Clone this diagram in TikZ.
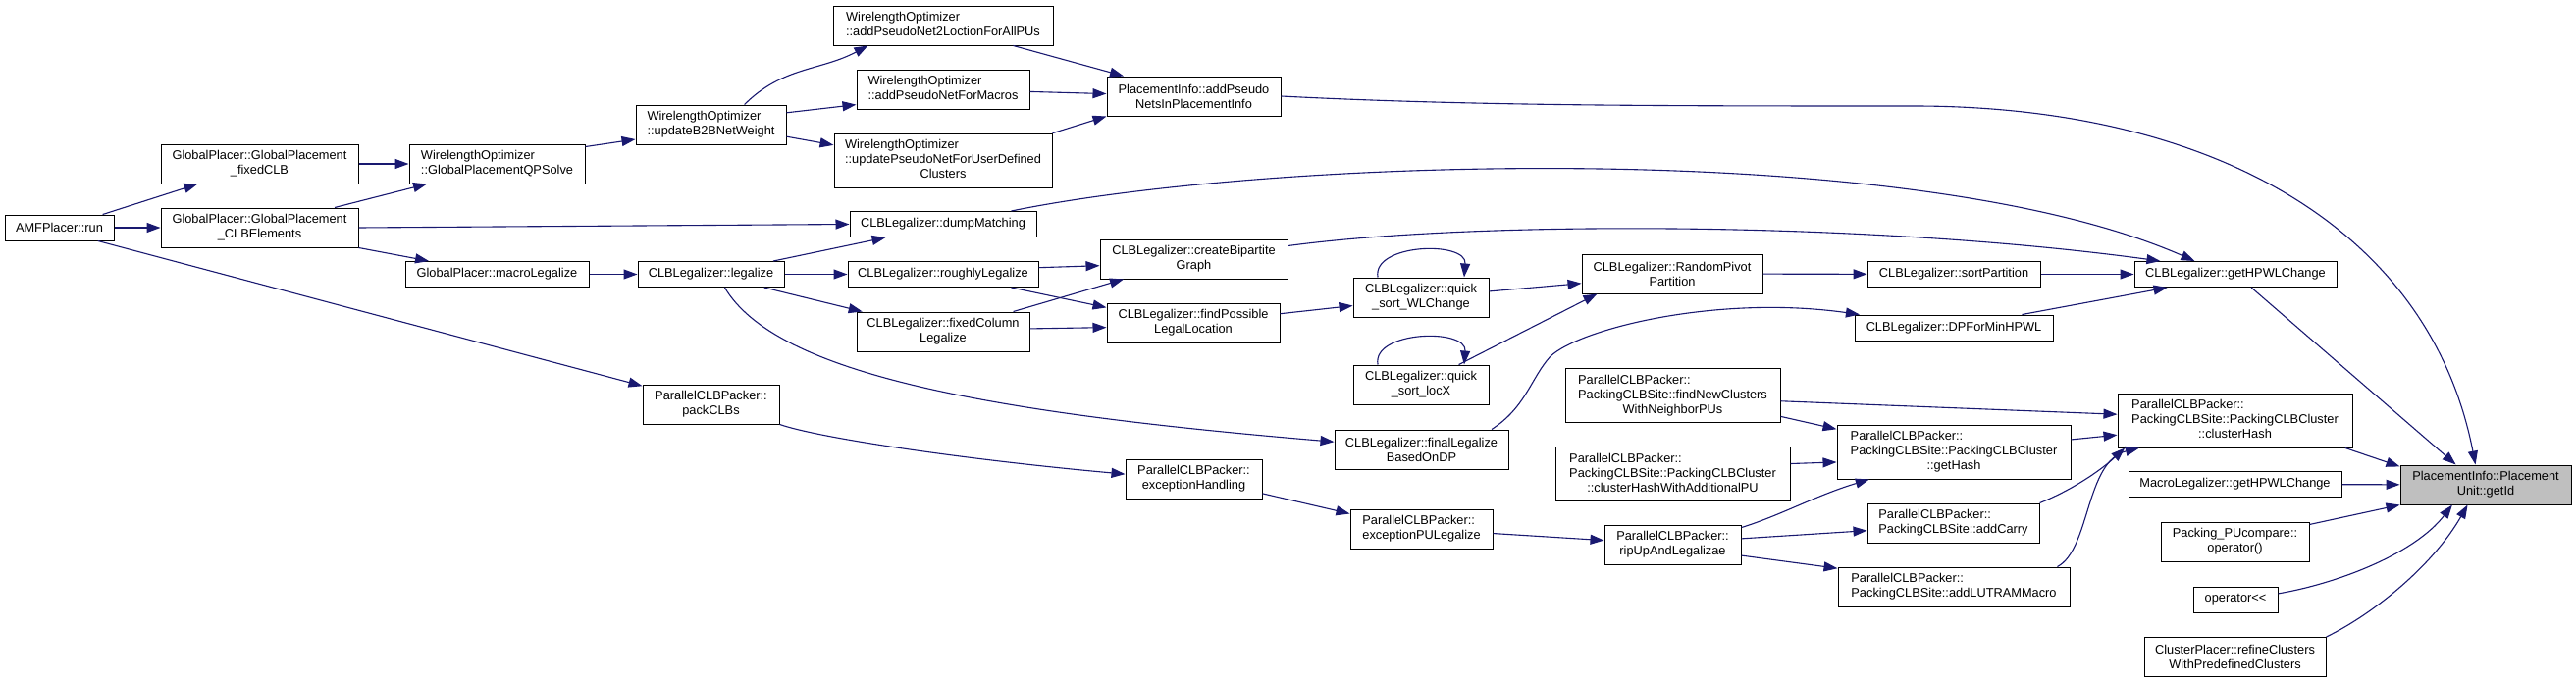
\documentclass[tikz,border=0pt]{standalone}
\usepackage{fontspec}
\setmainfont{Liberation Sans}
\usetikzlibrary{arrows.meta}
\definecolor{edgeblue}{RGB}{25,25,112}
\definecolor{hlgray}{RGB}{191,191,191}
\newcommand{\fnfont}{\fontsize{12.8}{15}\selectfont}
\newcommand{\lft}[1]{\begin{tabular}{@{}l@{}}#1\end{tabular}}
\newcommand{\ctr}[1]{\multicolumn{1}{@{}c@{}}{#1}}
\tikzset{
  fnbox/.style={draw=black, line width=1pt, inner sep=0pt, font=\fnfont},
  fn/.style={fnbox, align=center},
  one/.style={minimum height=26pt},
  two/.style={minimum height=40pt},
  three/.style={minimum height=55pt},
  call/.style={draw=edgeblue, line width=1.1pt, -{Triangle[length=14pt,width=10pt]}},
}

\begin{document}
\begin{tikzpicture}[x=1pt,y=-1pt]
  \useasboundingbox (0,0) rectangle (2625,696);
  % callers, column by column (left to right)
  \node[fn, one, minimum width=111] (amf) at (60.5,232) {AMFPlacer::run};
  \node[fn, two, minimum width=201] (gpfix) at (264.5,167) {GlobalPlacer::GlobalPlacement\\\_fixedCLB};
  \node[fn, two, minimum width=201] (gpclb) at (264.5,232) {GlobalPlacer::GlobalPlacement\\\_CLBElements};
  \node[fnbox, two, minimum width=179] (qp) at (506.5,167) {\lft{WirelengthOptimizer\\::GlobalPlacementQPSolve}};
  \node[fn, one, minimum width=187] (gpmacro) at (506.5,279.5) {GlobalPlacer::macroLegalize};
  \node[fnbox, two, minimum width=153] (b2b) at (724.5,127) {\lft{WirelengthOptimizer\\::updateB2BNetWeight}};
  \node[fn, one, minimum width=149] (legal) at (724.5,279.5) {CLBLegalizer::legalize};
  \node[fn, two, minimum width=139] (packclb) at (724.5,412) {ParallelCLBPacker::\\packCLBs};
  \node[fnbox, two, minimum width=224] (net2loc) at (961,26) {\lft{WirelengthOptimizer\\::addPseudoNet2LoctionForAllPUs}};
  \node[fnbox, two, minimum width=176] (netmac) at (961,91) {\lft{WirelengthOptimizer\\::addPseudoNetForMacros}};
  \node[fnbox, three, minimum width=222] (netuser) at (961,163.5) {\lft{WirelengthOptimizer\\::updatePseudoNetForUserDefined\\\ctr{Clusters}}};
  \node[fn, one, minimum width=190] (dump) at (961,228.5) {CLBLegalizer::dumpMatching};
  \node[fn, one, minimum width=194] (rough) at (961,279.5) {CLBLegalizer::roughlyLegalize};
  \node[fn, two, minimum width=176] (fixcol) at (961,338) {CLBLegalizer::fixedColumn\\Legalize};
  \node[fn, two, minimum width=177] (piadd) at (1216.5,98) {PlacementInfo::addPseudo\\NetsInPlacementInfo};
  \node[fn, two, minimum width=191] (bipart) at (1216.5,264) {CLBLegalizer::createBipartite\\Graph};
  \node[fn, two, minimum width=176] (findpos) at (1216,329) {CLBLegalizer::findPossible\\LegalLocation};
  \node[fn, two, minimum width=139] (exch) at (1216.5,488) {ParallelCLBPacker::\\exceptionHandling};
  \node[fn, two, minimum width=138] (qswl) at (1448,303) {CLBLegalizer::quick\\\_sort\_WLChange};
  \node[fn, two, minimum width=138] (qsx) at (1448,392) {CLBLegalizer::quick\\\_sort\_locX};
  \node[fn, two, minimum width=177] (final) at (1448.5,458) {CLBLegalizer::finalLegalize\\BasedOnDP};
  \node[fnbox, two, minimum width=145] (expu) at (1448.5,539) {\lft{ParallelCLBPacker::\\exceptionPULegalize}};
  \node[fn, two, minimum width=184] (randp) at (1704,279) {CLBLegalizer::RandomPivot\\Partition};
  \node[fnbox, three, minimum width=219] (findnew) at (1704.5,403) {\lft{ParallelCLBPacker::\\PackingCLBSite::findNewClusters\\\ctr{WithNeighborPUs}}};
  \node[fnbox, three, minimum width=239] (chwapu) at (1704.5,483) {\lft{ParallelCLBPacker::\\PackingCLBSite::PackingCLBCluster\\\ctr{::clusterHashWithAdditionalPU}}};
  \node[fn, two, minimum width=139] (ripup) at (1704.5,555) {ParallelCLBPacker::\\ripUpAndLegalizae};
  \node[fn, one, minimum width=176] (sortp) at (1991,279.5) {CLBLegalizer::sortPartition};
  \node[fn, one, minimum width=202] (dpmin) at (1991,334) {CLBLegalizer::DPForMinHPWL};
  \node[fnbox, three, minimum width=238] (gethash) at (1991,460.5) {\lft{ParallelCLBPacker::\\PackingCLBSite::PackingCLBCluster\\\ctr{::getHash}}};
  \node[fnbox, two, minimum width=175] (addcarry) at (1990.5,533) {\lft{ParallelCLBPacker::\\PackingCLBSite::addCarry}};
  \node[fnbox, two, minimum width=236] (addlut) at (1991,598) {\lft{ParallelCLBPacker::\\PackingCLBSite::addLUTRAMMacro}};
  \node[fn, one, minimum width=206] (hpwl) at (2278,279.5) {CLBLegalizer::getHPWLChange};
  \node[fnbox, three, minimum width=239] (chash) at (2277.5,428.5) {\lft{ParallelCLBPacker::\\PackingCLBSite::PackingCLBCluster\\\ctr{::clusterHash}}};
  \node[fn, one, minimum width=217] (mlhpwl) at (2277.5,493.5) {MacroLegalizer::getHPWLChange};
  \node[fn, two, minimum width=151] (pucmp) at (2277.5,552) {Packing\_PUcompare::\\operator()};
  \node[fn, one, minimum width=86] (opout) at (2278,611) {operator<\kern0pt<};
  \node[fn, two, minimum width=185] (refine) at (2277.5,669.5) {ClusterPlacer::refineClusters\\WithPredefinedClusters};
  % the function itself
  \node[fn, two, minimum width=174, fill=hlgray] (getid) at (2533,494) {PlacementInfo::Placement\\Unit::getId};

  % calls
  \draw[call] (amf.17) -- (gpfix.198);
  \draw[call] (amf) -- (gpclb);
  \draw[call] (amf.-19) -- (packclb.165);
  \draw[call] (gpfix) -- (qp);
  \draw[call] (gpclb.15) -- (qp.196);
  \draw[call] (gpclb.east) -- (dump.west);
  \draw[call] (gpclb.south east) -- (gpmacro.169);
  \draw[call] (qp.11) -- (b2b.191);
  \draw[call] (gpmacro) -- (legal);
  \draw[call] (b2b.31) to[out=45, in=208] (net2loc.195);
  \draw[call] (b2b.9) -- (netmac.190);
  \draw[call] (b2b.-9) -- (netuser.172);
  \draw[call] (net2loc.-16) -- (piadd.164);
  \draw[call] (netmac) -- (piadd);
  \draw[call] (netuser.14) -- (piadd.south west);
  \draw[call] (piadd.east) .. controls (1500,108) and (1700,108) .. (1950,108)
    .. controls (2250,108) and (2475,230) .. (getid.117);
  \draw[call] (legal.12) -- (dump.193);
  \draw[call] (legal) -- (rough);
  \draw[call] (legal.-14) -- (fixcol.166);
  \draw[call] (legal.-44) .. controls (790,380) and (1000,420) .. (final.175);
  \draw[call] (dump.11) .. controls (1300,160) and (1950,140) .. (hpwl.162);
  \draw[call] (rough.4) -- (bipart.184);
  \draw[call] (rough.-11) -- (findpos.170);
  \draw[call] (fixcol.16) -- (bipart.196);
  \draw[call] (fixcol.2) -- (findpos.183);
  \draw[call] (bipart.8) .. controls (1500,225) and (1900,225) .. (hpwl.170);
  \draw[call] (findpos.6) -- (qswl.187);
  \draw[call] (qswl.155) .. controls (1398,248) and (1495,245) .. (qswl.25);
  \draw[call] (qswl.5) -- (randp.186);
  \draw[call] (qsx.155) .. controls (1398,337) and (1495,334) .. (qsx.25);
  \draw[call] (qsx.28) -- (randp.195);
  \draw[call] (randp) -- (sortp);
  \draw[call] (sortp) -- (hpwl);
  \draw[call] (final.16) .. controls (1555,415) and (1560,385) .. (1580,363)
    .. controls (1610,335) and (1750,300) .. (dpmin.172);
  \draw[call] (dpmin.11) -- (hpwl.191);
  \draw[call] (hpwl.-40) -- (getid.146);
  \draw[call] (packclb.south east) .. controls (840,448) and (1000,470) .. (exch.176);
  \draw[call] (exch.-12) -- (expu.168);
  \draw[call] (expu) -- (ripup);
  \draw[call] (ripup.14) .. controls (1815,525) and (1850,505) .. (gethash.198);
  \draw[call] (ripup.5) -- (addcarry.185);
  \draw[call] (ripup.-9) -- (addlut.171);
  \draw[call] (findnew.-3) -- (chash.177);
  \draw[call] (findnew.-11) -- (gethash.169);
  \draw[call] (chwapu.5) -- (gethash.185);
  \draw[call] (gethash.6) -- (chash.187);
  \draw[call] (addcarry.north east) .. controls (2110,500) and (2140,480) .. (chash.194);
  \draw[call] (addlut.11) .. controls (2130,560) and (2125,470) .. (chash.196);
  \draw[call] (chash.-14) -- (getid.168);
  \draw[call] (mlhpwl) -- (getid);
  \draw[call] (pucmp.13) -- (getid.south west);
  \draw[call] (opout.8) .. controls (2380,595) and (2460,565) .. (getid.211);
  \draw[call] (refine.north east) .. controls (2420,625) and (2480,575) .. (getid.228);
\end{tikzpicture}
\end{document}
